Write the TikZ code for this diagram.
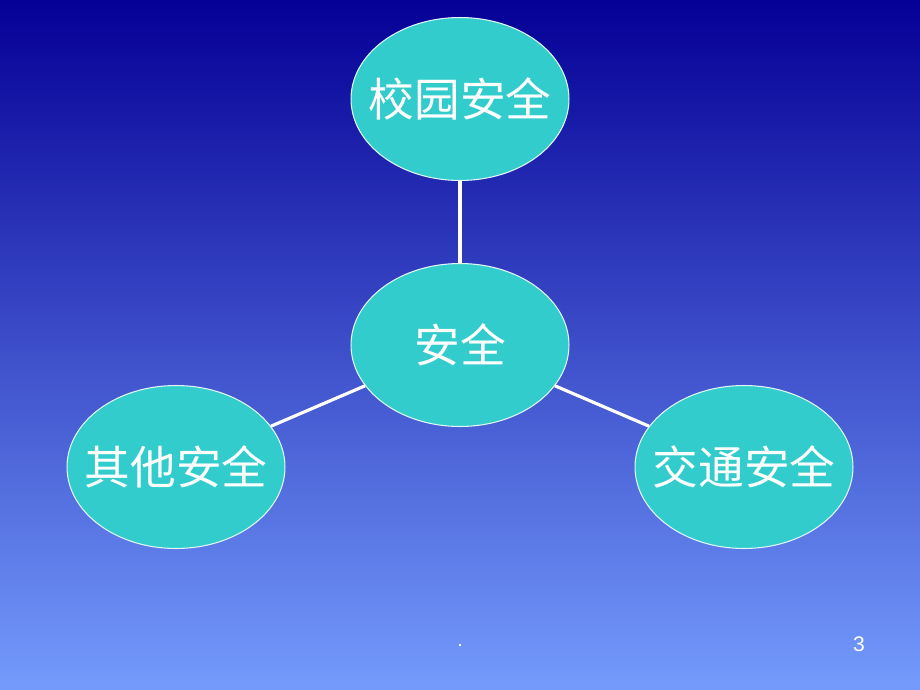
\documentclass[tikz,border=0pt]{standalone}
\usepackage{fontspec}
\setmainfont{Liberation Sans}
\newfontfamily\cjk{Noto Sans CJK SC}
\usetikzlibrary{shapes.geometric}
\definecolor{slideTop}{RGB}{5,0,150}
\definecolor{slideMid}{RGB}{72,95,218}
\definecolor{slideBottom}{RGB}{116,155,252}
\definecolor{bubbleFill}{RGB}{51,204,204}
\newcommand{\bubbletext}[1]{\makebox[0pt]{#1}}
\tikzset{
	bubble/.style={ellipse, fill=bubbleFill, draw=white!85!bubbleFill, line width=0.6pt,
		minimum width=4.36cm, minimum height=3.26cm, inner sep=0pt,
		text=white, font=\cjk\fontsize{26}{30}\selectfont},
	link/.style={white, line width=1.8pt}
}

\begin{document}
\begin{tikzpicture}[x=0.02cm, y=-0.02cm]
	\shade[top color=slideTop, middle color=slideMid, bottom color=slideBottom] (0,0) rectangle (920,690);
	\useasboundingbox (0,0) rectangle (920,690);
	\node[bubble] (campus) at (460,99) {\bubbletext{校园安全}};
	\node[bubble] (safety) at (460,345) {\bubbletext{安全}};
	\node[bubble] (other) at (176,467) {\bubbletext{其他安全}};
	\node[bubble] (traffic) at (744,467) {\bubbletext{交通安全}};
	\draw[link] (campus) -- (safety);
	\draw[link] (safety) -- (other);
	\draw[link] (safety) -- (traffic);
	% footer
	\node[white, font=\fontsize{11}{13}\selectfont] (dot) at (460,645) {.};
	\node[white, font=\fontsize{12}{14}\selectfont] (page) at (859,644) {3};
\end{tikzpicture}
\end{document}
